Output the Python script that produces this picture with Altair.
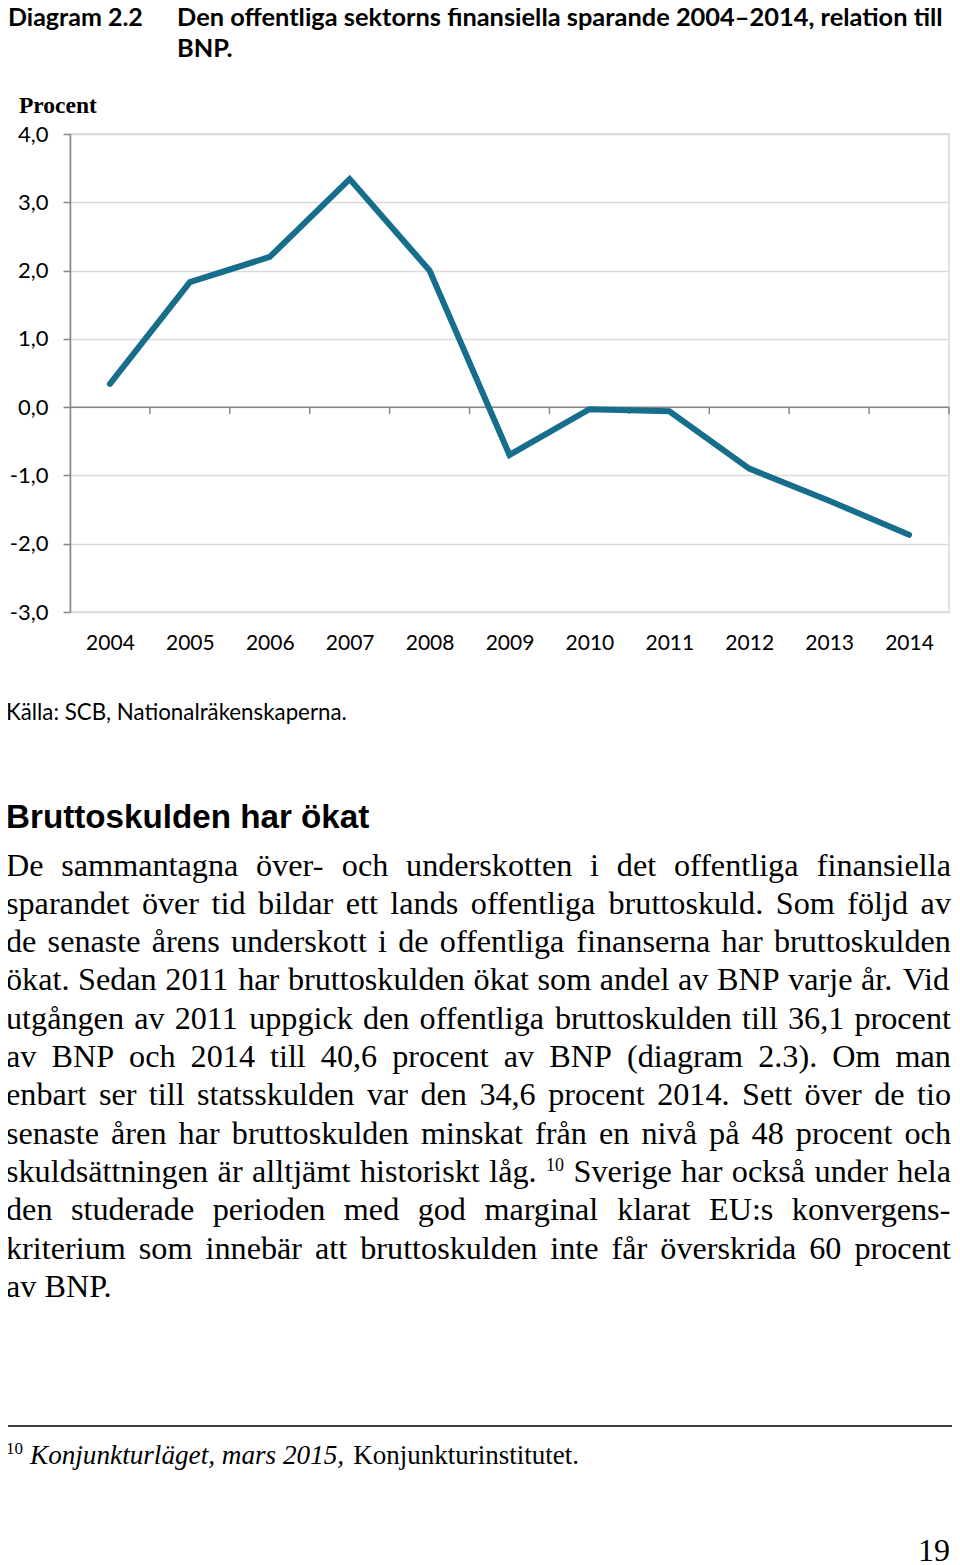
import altair as alt
import pandas as pd

# ---------------- data ----------------
years = list(range(2004, 2015))
saving = [0.34, 1.83, 2.20, 3.34, 2.00, -0.70, -0.03, -0.06, -0.90, -1.37, -1.87]
y_ticks = [-3, -2, -1, 0, 1, 2, 3, 4]
cat_bounds = [2004.5, 2005.5, 2006.5, 2007.5, 2008.5, 2009.5, 2010.5, 2011.5, 2012.5, 2013.5, 2014.5]

title_label = "Diagram 2.2"
title_lines = ["Den offentliga sektorns finansiella sparande 2004–2014, relation till", "BNP."]
unit_label = "Procent"
source_text = "Källa: SCB, Nationalräkenskaperna."
heading = "Bruttoskulden har ökat"
para_lines = [
    "De sammantagna över- och underskotten i det offentliga finansiella",
    "sparandet över tid bildar ett lands offentliga bruttoskuld. Som följd av",
    "de senaste årens underskott i de offentliga finanserna har bruttoskulden",
    "ökat. Sedan 2011 har bruttoskulden ökat som andel av BNP varje år. Vid",
    "utgången av 2011 uppgick den offentliga bruttoskulden till 36,1 procent",
    "av BNP och 2014 till 40,6 procent av BNP (diagram 2.3).  Om man",
    "enbart ser till statsskulden var den 34,6 procent 2014. Sett över de tio",
    "senaste åren har bruttoskulden minskat från en nivå på 48 procent och",
    "skuldsättningen är alltjämt historiskt låg. ^10 Sverige har också under hela",
    "den studerade perioden med god marginal klarat EU:s konvergens-",
    "kriterium som innebär att bruttoskulden inte får överskrida 60 procent",
    "av BNP.",
]
footnote_mark = "10"
footnote_italic = "Konjunkturläget, mars 2015,"
footnote_regular = "Konjunkturinstitutet."
page_number = "19"

# ---------------- layout ----------------
OX, OY = 70, 134          # page position of plot origin
W, H = 879, 478
LINE_COLOR = "#176e8c"
AXIS_GRAY = "#868686"
GRID_GRAY = "#d9d9d9"

BODY_SIZE = 32.2
SUP_SIZE = 18
LEFT, RIGHT = 6, 951
BASE0, STEP = 875.5, 38.3

# Times-compatible advance widths (per 1000 em)
TIMES = {" ": 250, "!": 333, "(": 333, ")": 333, ",": 250, "-": 333, ".": 250,
         ":": 278, ";": 278, "?": 444, "å": 444, "ä": 444, "ö": 500,
         "Å": 722, "Ä": 722, "Ö": 722, "é": 444}
for ch in "0123456789":
    TIMES[ch] = 500
for ch, w in zip("ABCDEFGHIJKLMNOPQRSTUVWXYZ",
                 [722, 667, 667, 722, 611, 556, 722, 722, 333, 389, 722, 611, 889,
                  722, 722, 556, 722, 667, 556, 611, 722, 722, 944, 722, 722, 611]):
    TIMES[ch] = w
for ch, w in zip("abcdefghijklmnopqrstuvwxyz",
                 [444, 500, 444, 500, 444, 333, 500, 500, 278, 278, 500, 278, 778,
                  500, 500, 500, 500, 333, 389, 278, 500, 500, 722, 500, 500, 444]):
    TIMES[ch] = w


def tw(s, size):
    return sum(TIMES.get(c, 500) for c in s) * size / 1000.0


# justified paragraph words
rows = []
for i, line in enumerate(para_lines):
    items = []
    for tk in line.split():
        if tk.startswith("^"):
            items.append((tk[1:], SUP_SIZE, -11))
        else:
            items.append((tk, BODY_SIZE, 0))
    widths = [tw(t, s) for t, s, _ in items]
    if i == len(para_lines) - 1:
        gap = 0.25 * BODY_SIZE
    else:
        gap = (RIGHT - LEFT - sum(widths)) / (len(items) - 1)
    x = LEFT
    for (t, s, dy), w in zip(items, widths):
        rows.append(dict(t=t, px=x - OX, py=BASE0 + i * STEP + dy - OY, fs=s))
        x += w + gap
para_df = pd.DataFrame(rows)


def text_layer(items, font, size, weight="normal", style="normal", align="left"):
    df = pd.DataFrame([dict(t=t, px=x - OX, py=y - OY) for t, x, y in items])
    return alt.Chart(df).mark_text(
        font=font, fontSize=size, fontWeight=weight, fontStyle=style,
        align=align, baseline="alphabetic", color="#000000"
    ).encode(
        x=alt.X("px:Q", scale=None, axis=None),
        y=alt.Y("py:Q", scale=None, axis=None),
        text="t:N",
    )


# ---------------- chart ----------------
df = pd.DataFrame({"year": years, "value": saving})
xs = alt.Scale(domain=[2003.5, 2014.5], nice=False, zero=False)
ys = alt.Scale(domain=[-3, 4], nice=False, zero=False)

line = alt.Chart(df).mark_line(
    color=LINE_COLOR, strokeWidth=6, strokeCap="round", strokeJoin="miter"
).encode(
    x=alt.X("year:Q", scale=xs, axis=alt.Axis(
        values=years, format="d", title=None, grid=False, domain=False, ticks=False,
        labelPadding=20, labelFont="Lato", labelFontSize=21, labelColor="#000000",
        labelFlush=False, labelOverlap=False)),
    y=alt.Y("value:Q", scale=ys, axis=alt.Axis(
        values=y_ticks, title=None, grid=True, gridColor=GRID_GRAY, gridWidth=1.5,
        domainColor=AXIS_GRAY, domainWidth=1.5, tickColor=AXIS_GRAY, tickWidth=1.5,
        tickSize=7, labelPadding=15, labelFont="Lato", labelFontSize=22,
        labelColor="#000000", labelFlush=False, labelOverlap=False,
        labelExpr="replace(replace(format(datum.value, '.1f'), '.', ','), '\u2212', '-')")),
)

zero = alt.Chart(pd.DataFrame({"v": [0]})).mark_rule(
    color=AXIS_GRAY, strokeWidth=1.5
).encode(y=alt.Y("v:Q", scale=ys))

ticks = alt.Chart(pd.DataFrame({"b": cat_bounds})).mark_rule(
    color=AXIS_GRAY, strokeWidth=1.5
).encode(
    x=alt.X("b:Q", scale=xs),
    y=alt.datum(0),
    y2=alt.datum(-0.1),
)

plot = alt.layer(zero, ticks, line)

title_a = text_layer([(title_label, 8, 26)], "Lato", 25, weight="bold")
title_b = text_layer([(title_lines[0], 177, 26), (title_lines[1], 177, 57)], "Lato", 25.4, weight="bold")
unit = text_layer([(unit_label, 19, 113)], "Liberation Serif", 23.5, weight="bold")
source = text_layer([(source_text, 6, 720)], "Lato", 22.3)
head = text_layer([(heading, 6, 828)], "Liberation Sans", 33.2, weight="bold")

para = alt.Chart(para_df).mark_text(
    font="Liberation Serif", align="left", baseline="alphabetic", color="#000000"
).encode(
    x=alt.X("px:Q", scale=None, axis=None),
    y=alt.Y("py:Q", scale=None, axis=None),
    size=alt.Size("fs:Q", scale=None, legend=None),
    text="t:N",
)

foot_rule = alt.Chart(pd.DataFrame({"k": [0]})).mark_rule(
    color="#000000", strokeWidth=1.5
).encode(
    x=alt.value(5 - OX), x2=alt.value(952 - OX), y=alt.value(1426 - OY)
)
foot_mark = text_layer([(footnote_mark, 6, 1454)], "Liberation Serif", 17)
foot_it = text_layer([(footnote_italic, 30, 1464)], "Liberation Serif", 27.2, style="italic")
foot_reg = text_layer([(footnote_regular, 579, 1464)], "Liberation Serif", 27.0, align="right")
page = text_layer([(page_number, 950, 1561)], "Liberation Serif", 32, align="right")

chart = alt.layer(
    plot, title_a, title_b, unit, source, head, para,
    foot_rule, foot_mark, foot_it, foot_reg, page
).resolve_scale(
    x="independent", y="independent"
).properties(
    width=W, height=H,
    autosize=alt.AutoSizeParams(type="none"),
    padding={"left": 62, "top": 126, "right": 3, "bottom": 953},
    background="white",
).configure_view(
    stroke=GRID_GRAY, strokeWidth=1.5
)

chart.save("out.html", embed_options={"renderer": "svg", "actions": False})
